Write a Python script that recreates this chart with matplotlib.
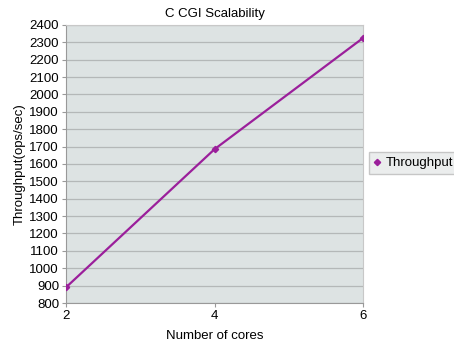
import matplotlib
matplotlib.use("Agg")
import matplotlib.pyplot as plt

plt.rcParams["font.family"] = ["Liberation Sans", "DejaVu Sans"]

cores = [2, 4, 6]
throughput = [890, 1685, 2325]
yticks = list(range(800, 2401, 100))
xticks = [2, 4, 6]

fig = plt.figure(figsize=(4.54, 3.43), dpi=100)
ax = fig.add_axes([66/454, 1-303/343, (363-66)/454, (303-25)/343])
ax.set_facecolor("#dde3e3")
ax.plot(cores, throughput, color="#9b1f9b", lw=1.6, marker="D", ms=3.2, label="Throughput", zorder=3)
ax.set_xlim(2, 6)
ax.set_ylim(800, 2400)
ax.set_xticks(xticks)
ax.set_yticks(yticks)
ax.yaxis.grid(True, color="#b4b8b8", lw=0.9)
ax.tick_params(labelsize=9.5, length=3, color="#999999", pad=2)
for s in ["top", "right"]:
    ax.spines[s].set_color("#c8c8c8")
for s in ["left", "bottom"]:
    ax.spines[s].set_color("#999999")
ax.set_title("C CGI Scalability", fontsize=9.5, pad=6)
ax.set_xlabel("Number of cores", fontsize=9.5, labelpad=6)
ax.set_ylabel("Throughput(ops/sec)", fontsize=9.5, labelpad=3)
leg = fig.legend(loc="center left", bbox_to_anchor=(369/454, 1-163/343), fontsize=9.5,
                 frameon=True, fancybox=False, handlelength=0.5, handletextpad=0.4,
                 borderpad=0.35, borderaxespad=0, markerscale=1.0)
leg.get_frame().set_facecolor("#e6e9e9")
leg.get_frame().set_edgecolor("#bbbbbb")
for h in leg.legend_handles:
    h.set_linestyle("none")
fig.savefig("out.png", dpi=100)
